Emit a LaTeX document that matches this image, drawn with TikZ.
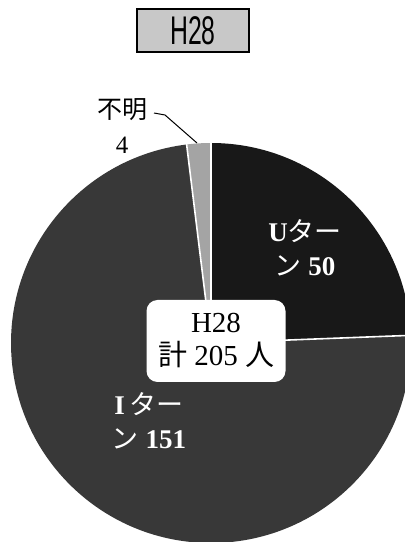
\documentclass[tikz,border=0pt]{standalone}
\usepackage{fontspec}
\usetikzlibrary{calc}
\setmainfont{Liberation Serif}
\newfontfamily\cjk{Noto Sans CJK JP}
\newfontfamily\titlesans{Liberation Sans}
\definecolor{ucol}{HTML}{181818}
\definecolor{icol}{HTML}{383838}
\definecolor{ncol}{HTML}{A4A4A4}
\definecolor{tcol}{HTML}{C8C8C8}
\begin{document}
\begin{tikzpicture}[x=1pt,y=1pt,
  sep/.style={draw=white,line width=1.6pt},
  slicelabel/.style={text=white,align=center,font=\fontsize{27}{34}\selectfont,inner sep=0pt},
  centerbox/.style={fill=white,rounded corners=11pt,minimum width=139pt,minimum height=82pt,align=center,inner sep=0pt,font=\fontsize{29}{33}\selectfont},
  titlebox/.style={fill=tcol,draw=black,line width=1.2pt,minimum width=112pt,minimum height=43pt,inner sep=0pt}]
\useasboundingbox (0,0) rectangle (405,542);
\fill[white] (0,0) rectangle (405,542);
\begin{scope}
\clip (0,0) rectangle (405,542);
\coordinate (c) at (211,199);
\fill[ucol] (c) -- ++(90:200) arc[start angle=90,end angle=2.2,radius=200] -- cycle;
\fill[icol] (c) -- ++(2.2:200) arc[start angle=2.2,end angle=-263,radius=200] -- cycle;
\fill[ncol] (c) -- ++(97:200) arc[start angle=97,end angle=90,radius=200] -- cycle;
\coordinate (e1) at ($(c)+(90:201)$);
\coordinate (e2) at ($(c)+(2.2:201)$);
\coordinate (e3) at ($(c)+(97:201)$);
\draw[sep] (c) -- (e1);
\draw[sep] (c) -- (e2);
\draw[sep] (c) -- (e3);
\end{scope}
\node[centerbox] (total) at (216,201) {H28\\{\cjk 計} 205 {\cjk 人}};
\node[slicelabel] (ulab) at (305,294) {\textbf{U}{\cjk ター}\\{\cjk ン} \textbf{50}};
\node[slicelabel] (ilab) at (149,121) {\textbf{I}\,{\cjk ター}\\{\cjk ン} \textbf{151}};
\node[align=center,inner sep=0pt,font=\fontsize{25}{35}\selectfont] (nlab) at (122,416) {{\cjk 不明}\\4};
\coordinate (l1) at (154,429);
\coordinate (l2) at (165,427);
\coordinate (l3) at (197,399);
\draw[line width=1pt] (l1) -- (l2) -- (l3);
\node[titlebox] (title) at (193,511.5) {\titlesans\fontsize{40}{40}\selectfont\scalebox{0.62}[1]{H28}};
\end{tikzpicture}
\end{document}
